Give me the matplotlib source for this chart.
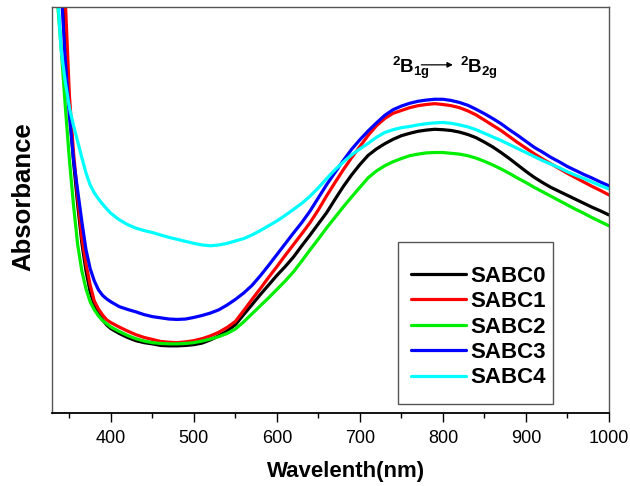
import matplotlib
matplotlib.use("Agg")
import matplotlib.pyplot as plt
from matplotlib.patches import Rectangle

plt.rcParams['font.family'] = ['Liberation Sans', 'DejaVu Sans']
plt.rcParams['mathtext.fontset'] = 'custom'
plt.rcParams['mathtext.rm'] = 'Liberation Sans'
plt.rcParams['mathtext.it'] = 'Liberation Sans'
plt.rcParams['mathtext.bf'] = 'Liberation Sans:bold'

wavelength = [335, 340, 345, 350, 355, 360, 365, 370, 375, 380, 385, 390, 395,
              400, 410, 420, 430, 440, 450, 460, 470, 480, 490,
              500, 510, 520, 530, 540, 550, 560, 570, 580, 590,
              600, 610, 620, 630, 640, 650, 660, 670, 680, 690,
              700, 710, 720, 730, 740, 750, 760, 770, 780, 790,
              800, 810, 820, 830, 840, 850, 860, 870, 880, 890,
              900, 910, 920, 930, 940, 950, 960, 970, 980, 990, 1000]

sabc0 = [1.283, 1.183, 0.958, 0.763, 0.628, 0.520, 0.425, 0.355, 0.303, 0.270, 0.248, 0.233, 0.220,
         0.211, 0.199, 0.189, 0.181, 0.176, 0.173, 0.169, 0.168, 0.168, 0.169,
         0.171, 0.175, 0.183, 0.193, 0.205, 0.221, 0.246, 0.271, 0.296, 0.320,
         0.344, 0.366, 0.390, 0.418, 0.445, 0.473, 0.501, 0.534, 0.566, 0.595,
         0.621, 0.644, 0.660, 0.673, 0.684, 0.693, 0.699, 0.704, 0.707, 0.709,
         0.708, 0.706, 0.702, 0.696, 0.688, 0.677, 0.665, 0.651, 0.636, 0.620,
         0.604, 0.589, 0.576, 0.564, 0.554, 0.544, 0.534, 0.524, 0.514, 0.505, 0.495]

sabc1 = [1.333, 1.233, 1.033, 0.793, 0.650, 0.538, 0.438, 0.373, 0.320, 0.280, 0.260, 0.245, 0.233,
         0.226, 0.215, 0.205, 0.196, 0.189, 0.184, 0.179, 0.177, 0.176, 0.178,
         0.181, 0.186, 0.193, 0.202, 0.214, 0.229, 0.256, 0.284, 0.311, 0.339,
         0.366, 0.394, 0.421, 0.448, 0.476, 0.508, 0.543, 0.576, 0.608, 0.638,
         0.666, 0.694, 0.718, 0.736, 0.749, 0.756, 0.763, 0.768, 0.771, 0.773,
         0.771, 0.768, 0.763, 0.755, 0.745, 0.732, 0.719, 0.706, 0.691, 0.676,
         0.662, 0.648, 0.635, 0.623, 0.611, 0.599, 0.588, 0.577, 0.566, 0.556, 0.545]

sabc2 = [1.045, 0.913, 0.768, 0.633, 0.518, 0.420, 0.355, 0.310, 0.278, 0.258, 0.243, 0.231, 0.223,
         0.215, 0.204, 0.194, 0.186, 0.180, 0.176, 0.174, 0.173, 0.173, 0.174,
         0.176, 0.180, 0.185, 0.191, 0.199, 0.210, 0.228, 0.248, 0.268, 0.288,
         0.309, 0.330, 0.353, 0.380, 0.408, 0.435, 0.463, 0.489, 0.515, 0.540,
         0.564, 0.588, 0.605, 0.618, 0.628, 0.636, 0.643, 0.647, 0.650, 0.651,
         0.651, 0.649, 0.647, 0.643, 0.637, 0.629, 0.620, 0.610, 0.599, 0.587,
         0.576, 0.564, 0.553, 0.542, 0.531, 0.520, 0.509, 0.499, 0.488, 0.478, 0.468]

sabc3 = [1.133, 1.063, 0.883, 0.743, 0.633, 0.555, 0.478, 0.408, 0.361, 0.330, 0.308, 0.294, 0.285,
         0.278, 0.266, 0.259, 0.253, 0.246, 0.241, 0.238, 0.235, 0.234, 0.235,
         0.239, 0.244, 0.250, 0.258, 0.270, 0.284, 0.300, 0.319, 0.343, 0.369,
         0.396, 0.423, 0.450, 0.476, 0.505, 0.538, 0.571, 0.601, 0.631, 0.659,
         0.683, 0.705, 0.725, 0.744, 0.758, 0.767, 0.774, 0.779, 0.782, 0.784,
         0.784, 0.781, 0.776, 0.769, 0.759, 0.748, 0.736, 0.723, 0.708, 0.694,
         0.679, 0.664, 0.652, 0.639, 0.628, 0.616, 0.606, 0.596, 0.587, 0.577, 0.568]

sabc4 = [1.070, 0.908, 0.828, 0.763, 0.718, 0.678, 0.638, 0.600, 0.570, 0.550, 0.535, 0.522, 0.510,
         0.499, 0.483, 0.471, 0.462, 0.456, 0.451, 0.445, 0.439, 0.434, 0.429,
         0.424, 0.420, 0.418, 0.420, 0.424, 0.430, 0.436, 0.445, 0.456, 0.468,
         0.480, 0.494, 0.509, 0.524, 0.542, 0.563, 0.586, 0.608, 0.627, 0.645,
         0.660, 0.674, 0.689, 0.701, 0.708, 0.713, 0.716, 0.720, 0.723, 0.725,
         0.726, 0.724, 0.720, 0.715, 0.708, 0.699, 0.690, 0.681, 0.671, 0.661,
         0.651, 0.641, 0.631, 0.622, 0.613, 0.603, 0.594, 0.586, 0.577, 0.568, 0.560]

series = [("SABC0", sabc0, "#000000"),
          ("SABC1", sabc1, "#ff0000"),
          ("SABC2", sabc2, "#00ee00"),
          ("SABC3", sabc3, "#0000ff"),
          ("SABC4", sabc4, "#00ffff")]

major_ticks = [400, 500, 600, 700, 800, 900, 1000]
minor_ticks = [350, 450, 550, 650, 750, 850, 950]

fig = plt.figure(figsize=(6.3, 4.86), dpi=100)
ax = fig.add_axes([0.0825, 0.150, 0.884, 0.836])

for name, vals, col in series:
    ax.plot(wavelength, vals, color=col, lw=2.3, label=name,
            solid_joinstyle='round', solid_capstyle='round')

ax.set_xlim(329, 1000)
ax.set_ylim(0, 1.015)
ax.set_xticks(major_ticks)
ax.set_xticks(minor_ticks, minor=True)
ax.set_yticks([])
ax.tick_params(axis='x', which='major', direction='out', length=6.5, width=1,
               labelsize=13, pad=6)
ax.tick_params(axis='x', which='minor', direction='out', length=3.6, width=1)
for s in ['top', 'right', 'left']:
    ax.spines[s].set_color('#555555')
    ax.spines[s].set_linewidth(1.0)
ax.spines['bottom'].set_linewidth(1.3)

ax.set_xlabel("Wavelenth(nm)", fontsize=16, fontweight='bold')
ax.xaxis.set_label_coords(0.528, -0.118)
ax.set_ylabel("Absorbance", fontsize=18.5, fontweight='bold')
ax.yaxis.set_label_coords(-0.030, 0.532)

# legend box
ax.add_patch(Rectangle((0.621, 0.0222), 0.278, 0.399, transform=ax.transAxes,
                       facecolor='white', edgecolor='#555555', lw=1.0, zorder=4))
leg = ax.legend(loc='center', bbox_to_anchor=(0.7666, 0.2117), borderaxespad=0,
                frameon=False, handlelength=2.45, handletextpad=0.22,
                labelspacing=0.2, borderpad=0,
                prop={'weight': 'bold', 'size': 16})
leg.set_zorder(5)

# transition annotation
ax.text(739, 0.849, r'$\mathregular{^{2}B_{1g}}$', fontsize=13.5, fontweight='bold',
        ha='left', va='baseline')
ax.annotate('', xy=(812, 0.870), xytext=(774, 0.870),
            arrowprops=dict(arrowstyle='-|>', color='black', lw=0.9,
                            mutation_scale=8, shrinkA=0, shrinkB=0))
ax.text(820.5, 0.849, r'$\mathregular{^{2}B_{2g}}$', fontsize=13.5, fontweight='bold',
        ha='left', va='baseline')

fig.savefig("out.png", dpi=100)
